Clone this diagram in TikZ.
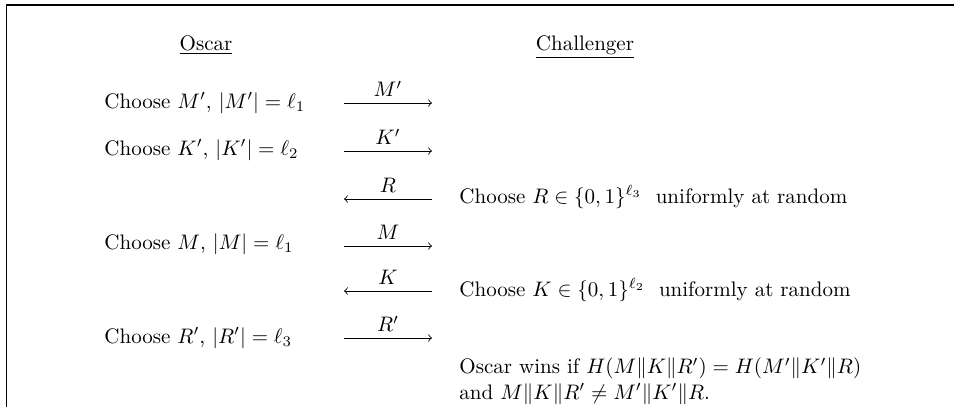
\documentclass[tikz,border=0pt]{standalone}
\usepackage{amsmath,amssymb}
\begin{document}
\begin{tikzpicture}[x=0.4762pt, y=-0.4762pt,
  lt/.style={anchor=base west, inner sep=0pt},
  hd/.style={anchor=base, inner sep=0pt},
  lbl/.style={anchor=base, inner sep=0pt, yshift=2.9pt},
  msg/.style={line width=0.4pt, -to}]
\useasboundingbox (0,0) rectangle (954,407);
\draw[line width=0.5pt] (6.5,407) -- (6.5,5) -- (954,5);
% headers
\node[hd] (oscar) at (206,50) {\underline{Oscar}};
\node[hd] (chal) at (585,50) {\underline{Challenger}};
% left texts
\node[lt] (o1) at (104,108) {Choose $M'$, $|M'| = \ell_1$};
\node[lt] (o2) at (104,155) {Choose $K'$, $|K'| = \ell_2$};
\node[lt] (o4) at (104,249) {Choose $M$, $|M| = \ell_1$};
\node[lt] (o6) at (104,343) {Choose $R'$, $|R'| = \ell_3$};
% right texts
\node[lt] (c3) at (459,203) {Choose $R \in \{0,1\}^{\ell_3}$ \ uniformly at random};
\node[lt] (c5) at (459,296) {Choose $K \in \{0,1\}^{\ell_2}$ \ uniformly at random};
\node[anchor=base west, inner sep=0pt, align=left] (win) at (459,399)
  {Oscar wins if $H(M\|K\|R') = H(M'\|K'\|R)$\\ and $M\|K\|R' \neq M'\|K'\|R$.};
% arrows
\foreach \i/\y in {1/103,2/151,3/199,4/246,5/291,6/338} {
  \coordinate (L\i) at (344,\y);
  \coordinate (R\i) at (432,\y);
}
\draw[msg] (L1) -- node[lbl] (t1) {$M'$} (R1);
\draw[msg] (L2) -- node[lbl] (t2) {$K'$} (R2);
\draw[msg] (R3) -- node[lbl] (t3) {$R$} (L3);
\draw[msg] (L4) -- node[lbl] (t4) {$M$} (R4);
\draw[msg] (R5) -- node[lbl] (t5) {$K$} (L5);
\draw[msg] (L6) -- node[lbl] (t6) {$R'$} (R6);
\end{tikzpicture}
\end{document}
